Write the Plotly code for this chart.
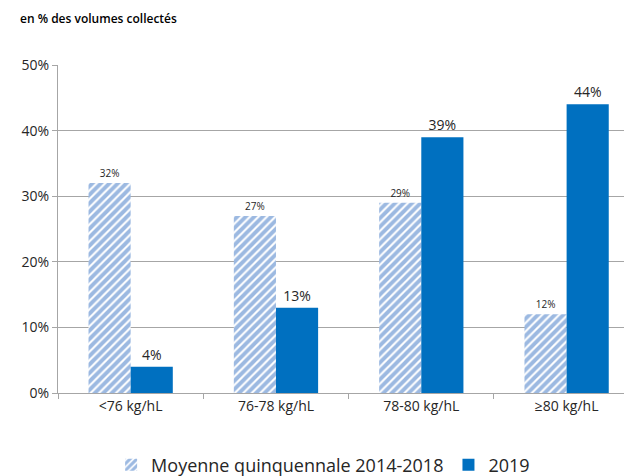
import plotly.graph_objects as go

categories = ["<76 kg/hL", "76-78 kg/hL", "78-80 kg/hL", "≥80 kg/hL"]
moyenne = [32, 27, 29, 12]
y2019 = [4, 13, 39, 44]
ytick_vals = [0, 10, 20, 30, 40, 50]
ytick_text = ["0%", "10%", "20%", "30%", "40%", "50%"]
series_names = ["Moyenne quinquennale 2014-2018", "2019"]
title_text = "en % des volumes collectés"

FONT = "Open Sans, Noto Sans, sans-serif"

fig = go.Figure()
fig.add_trace(go.Bar(
    x=categories, y=moyenne, name=series_names[0],
    marker=dict(color="white", line=dict(width=0),
                pattern=dict(shape="/", fgcolor="#3A74C4", bgcolor="white",
                             size=6, solidity=0.65)),
    text=[f"{v}%" for v in moyenne], textposition="outside",
    textfont=dict(size=10, color="#262626", family=FONT),
    cliponaxis=False,
))
fig.add_trace(go.Bar(
    x=categories, y=y2019, name=series_names[1],
    marker=dict(color="#0070C0", line=dict(width=0)),
    text=[f"{v}%" for v in y2019], textposition="outside",
    textfont=dict(size=14, color="#262626", family=FONT),
    cliponaxis=False,
))

fig.update_layout(
    width=624, height=468,
    margin=dict(l=50, r=0, t=57, b=82.5, autoexpand=False),
    barmode="group", bargap=0.42, bargroupgap=0,
    plot_bgcolor="white", paper_bgcolor="white",
    font=dict(family=FONT, color="#262626"),
    showlegend=True,
    legend=dict(orientation="h", x=0.505, xref="container", xanchor="center",
                y=0.0235, yref="container", yanchor="middle",
                font=dict(size=18, color="#262626"),
                traceorder="normal"),
    annotations=[dict(text=title_text, xref="paper", yref="paper",
                      x=-0.0697, y=1.143, xanchor="left", yanchor="middle",
                      showarrow=False,
                      font=dict(size=12, color="#000000", family=FONT, weight=600))],
)
fig.update_xaxes(
    range=[-0.5, 3.45], showline=True, linecolor="#A6A6A6", linewidth=1,
    ticks="outside", tickson="boundaries", ticklen=5, tickcolor="#A6A6A6",
    tickfont=dict(size=14, color="#262626"), showgrid=False, automargin=False,
)
fig.update_yaxes(
    range=[0, 50], tickvals=ytick_vals, ticktext=ytick_text,
    showline=True, linecolor="#A6A6A6", linewidth=1,
    ticks="outside", ticklen=5, tickcolor="#A6A6A6",
    gridcolor="#A6A6A6", gridwidth=1, zeroline=False,
    tickfont=dict(size=14, color="#262626"), automargin=False,
)
fig.write_html("out.html")
